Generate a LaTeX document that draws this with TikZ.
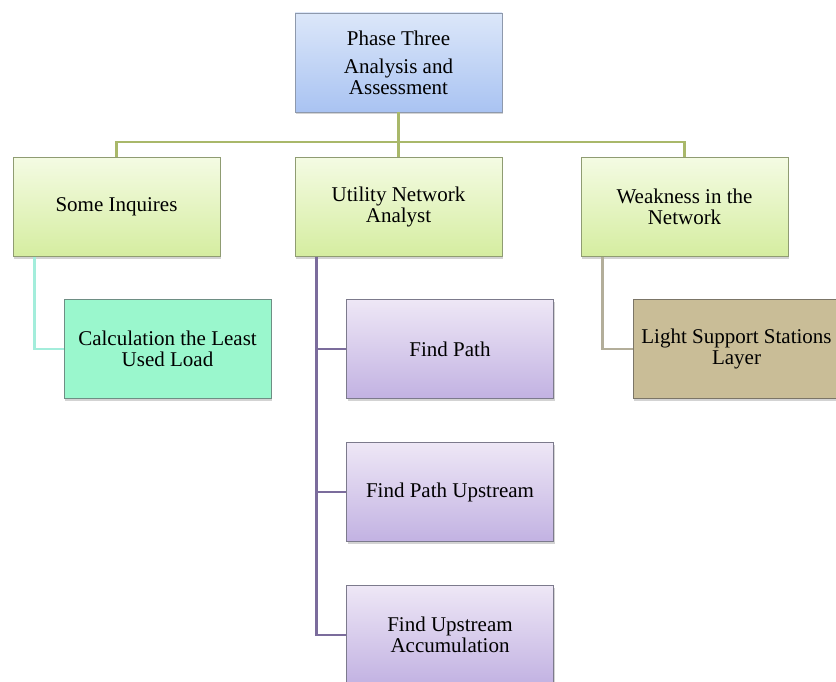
\documentclass[tikz,border=0pt]{standalone}
\usepackage{fontspec}
\setmainfont{Liberation Serif}
\usetikzlibrary{shadows}

\definecolor{bluetop}{HTML}{DCE7F9}
\definecolor{bluebot}{HTML}{A9C3F2}
\definecolor{blueline}{HTML}{8E99AC}
\definecolor{greentop}{HTML}{F4FBE3}
\definecolor{greenbot}{HTML}{D5EDA0}
\definecolor{greenline}{HTML}{8F9C72}
\definecolor{olivelink}{HTML}{A9B86A}
\definecolor{aquafill}{HTML}{9AF7CD}
\definecolor{aqualine}{HTML}{6E8E84}
\definecolor{aqualink}{HTML}{A3EDDB}
\definecolor{lavtop}{HTML}{EEE7F6}
\definecolor{lavbot}{HTML}{C2B2E2}
\definecolor{lavline}{HTML}{7C7A8C}
\definecolor{purplelink}{HTML}{7B6C9C}
\definecolor{tanfill}{HTML}{C9BD97}
\definecolor{tanline}{HTML}{7B7567}
\definecolor{tanlink}{HTML}{B3AE9A}

\begin{document}
\begin{tikzpicture}[x=1pt,y=-1pt,
	box/.style={line width=0.8pt, minimum width=207pt, minimum height=99pt,
		inner sep=0pt, align=center, font=\fontsize{21}{21}\selectfont,
		drop shadow={shadow xshift=1pt,shadow yshift=-2pt,opacity=0.35}},
	phasebox/.style={box, draw=blueline, top color=bluetop, bottom color=bluebot},
	taskbox/.style={box, draw=greenline, top color=greentop, bottom color=greenbot},
	calcbox/.style={box, draw=aqualine, fill=aquafill},
	toolbox/.style={box, draw=lavline, top color=lavtop, bottom color=lavbot},
	layerbox/.style={box, draw=tanline, fill=tanfill},
	link/.style={line width=2.5pt}]
	\useasboundingbox (0,0) rectangle (836,682);

	% Phase box
	\node[phasebox] (phase) at (398.5,62.5) {Phase Three\\[7pt]Analysis and\\Assessment};

	% Tasks
	\node[taskbox] (inq)  at (116.5,207) {Some Inquires};
	\node[taskbox] (una)  at (398.5,207) {Utility Network\\Analyst};
	\node[taskbox] (weak) at (684.5,207) {Weakness in the\\Network};

	% Sub tasks
	\node[calcbox]  (calc)  at (167.5,349) {Calculation the Least\\Used Load};
	\node[toolbox]  (fpath) at (450,349) {Find Path};
	\node[toolbox]  (fup)   at (450,492) {Find Path Upstream};
	\node[toolbox]  (facc)  at (450,635) {Find Upstream\\Accumulation};
	\node[layerbox] (light) at (736.5,349) {Light Support Stations\\Layer};

	% Connectors
	\coordinate (hub) at (398.5,142);
	\draw[link, olivelink] (phase) -- (hub);
	\draw[link, olivelink] (inq) |- (hub) -| (weak);
	\draw[link, olivelink] (hub) -- (una);

	\draw[link, aqualink] ([xshift=22pt]inq.south west) |- (calc);
	\foreach \n in {fpath,fup,facc}
		\draw[link, purplelink] ([xshift=22pt]una.south west) |- (\n);
	\draw[link, tanlink] ([xshift=22pt]weak.south west) |- (light);

\end{tikzpicture}
\end{document}
